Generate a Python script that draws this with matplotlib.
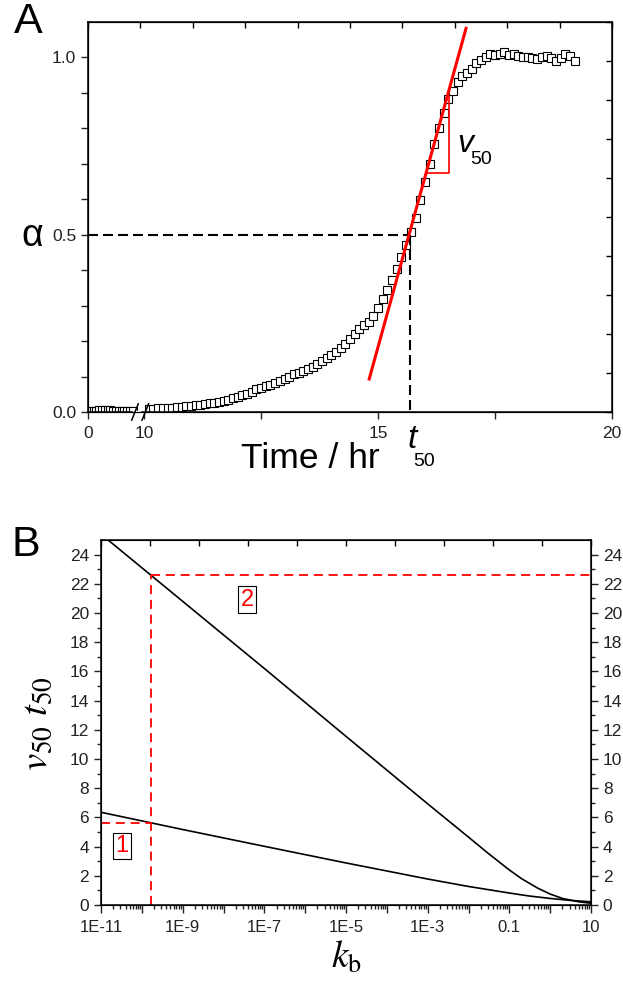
import numpy as np
import matplotlib
matplotlib.use("Agg")
import matplotlib.pyplot as plt
from matplotlib.ticker import FixedLocator, NullFormatter, FuncFormatter

plt.rcParams["font.family"] = ["Liberation Sans", "DejaVu Sans"]

# ---- panel A data (time in hr, fraction converted alpha) ----
early_t = [0.0, 0.5, 1.0, 1.5, 2.0, 2.5, 3.0, 3.5, 4.0, 4.5, 5.0, 5.5, 6.0,
           6.5, 7.0, 7.5, 8.0]
early_alpha = [0.002, 0.003, 0.003, 0.004, 0.005, 0.006, 0.007, 0.006, 0.005,
               0.004, 0.003, 0.003, 0.003, 0.002, 0.002, 0.002, 0.002]

time_hr = [10.1, 10.2, 10.3, 10.4, 10.5, 10.6, 10.7, 10.8, 10.9, 11.0,
           11.1, 11.2, 11.3, 11.4, 11.5, 11.6, 11.7, 11.8, 11.9, 12.0,
           12.1, 12.2, 12.3, 12.4, 12.5, 12.6, 12.7, 12.8, 12.9, 13.0,
           13.1, 13.2, 13.3, 13.4, 13.5, 13.6, 13.7, 13.8, 13.9, 14.0,
           14.1, 14.2, 14.3, 14.4, 14.5, 14.6, 14.7, 14.8, 14.9, 15.0,
           15.1, 15.2, 15.3, 15.4, 15.5, 15.6, 15.7, 15.8, 15.9, 16.0,
           16.1, 16.2, 16.3, 16.4, 16.5, 16.6, 16.7, 16.8, 16.9, 17.0,
           17.1, 17.2, 17.3, 17.4, 17.5, 17.6, 17.7, 17.8, 17.9, 18.0,
           18.1, 18.2, 18.3, 18.4, 18.5, 18.6, 18.7, 18.8, 18.9, 19.0,
           19.1, 19.2]
alpha = [0.008, 0.009, 0.010, 0.010, 0.011, 0.012, 0.013, 0.014, 0.016, 0.017,
         0.019, 0.020, 0.022, 0.024, 0.026, 0.029, 0.032, 0.035, 0.039, 0.043,
         0.047, 0.052, 0.057, 0.064, 0.068, 0.072, 0.077, 0.082, 0.088, 0.094,
         0.100, 0.106, 0.111, 0.117, 0.122, 0.128, 0.136, 0.145, 0.153, 0.160,
         0.170, 0.181, 0.193, 0.206, 0.219, 0.234, 0.245, 0.255, 0.272, 0.294,
         0.318, 0.345, 0.372, 0.402, 0.436, 0.470, 0.508, 0.548, 0.597, 0.648,
         0.700, 0.756, 0.800, 0.842, 0.882, 0.905, 0.932, 0.948, 0.955, 0.968,
         0.983, 0.992, 1.002, 1.010, 1.006, 1.010, 1.014, 1.008, 1.010, 1.005,
         1.002, 1.000, 0.999, 0.996, 1.000, 1.004, 0.998, 0.990, 0.998, 1.010,
         1.004, 0.990]

t50 = 15.68
tangent_t = [14.81, 16.88]
tangent_a = [0.093, 1.082]
tri_t = [16.02, 16.52, 16.52]
tri_a = [0.673, 0.673, 0.89]

# ---- panel B data ----
kb_upper = [1e-11, 1e-9, 1e-7, 1e-5, 1e-3, 1e-2, 3e-2, 0.1, 0.2, 0.5, 1.0,
            2.0, 5.0, 10.0]
t50_upper = [25.4, 20.8, 16.2, 11.55, 6.93, 4.65, 3.55, 2.4, 1.8, 1.15, 0.75,
             0.45, 0.22, 0.12]
kb_lower = [1e-11, 1e-9, 1e-7, 1e-5, 1e-3, 1e-2, 0.1, 0.3, 1.0, 3.0, 10.0]
v50_lower = [6.35, 5.17, 4.02, 2.88, 1.78, 1.27, 0.82, 0.62, 0.45, 0.32, 0.22]
kb_mark = 1.65e-10
y_mark2 = 22.57
y_mark1 = 5.62


def fwd(t):
    t = np.asarray(t, dtype=float)
    return np.where(t < 10, t * 0.12, t - 8.8)


def inv(u):
    u = np.asarray(u, dtype=float)
    return np.where(u < 1.2, u / 0.12, u + 8.8)


fig = plt.figure(figsize=(6.23, 9.82), dpi=100)

# ================= panel A =================
ax = fig.add_axes([88 / 623, 1 - 412 / 982, 524 / 623, 390 / 982])
ax.set_xscale("function", functions=(fwd, inv))
ax.set_xlim(0, 20)
ax.set_ylim(0, 1.1)

mk = dict(marker="s", ls="none", ms=5.6, mfc="white", mec="black", mew=0.8)
ax.plot(early_t, early_alpha, **mk)
ax.plot(time_hr, alpha, **mk)

ax.plot([0, t50], [0.5, 0.5], color="black", lw=1.5, dashes=(4.8, 2.4))
ax.plot([t50, t50], [0.5, 0], color="black", lw=1.5, dashes=(4.8, 2.4))
ax.plot(tangent_t, tangent_a, color="red", lw=2.2, clip_on=False, zorder=5)
ax.plot(tri_t, tri_a, color="red", lw=1.2, zorder=5)

ax.xaxis.set_major_locator(FixedLocator([0, 10, 15, 20]))
ax.xaxis.set_minor_locator(FixedLocator([12.5, 17.5]))
ax.xaxis.set_major_formatter(FuncFormatter(lambda v, p: f"{v:.0f}"))
ax.xaxis.set_minor_formatter(NullFormatter())
ax.yaxis.set_major_locator(FixedLocator([0, 0.5, 1.0]))
ax.yaxis.set_minor_locator(FixedLocator([0.1, 0.2, 0.3, 0.4, 0.6, 0.7, 0.8, 0.9]))
ax.yaxis.set_major_formatter(FuncFormatter(lambda v, p: f"{v:.1f}"))
ax.tick_params(which="both", direction="out", width=1.0, labelsize=12.5, colors="#222222")
ax.tick_params(which="major", length=5)
ax.tick_params(which="minor", length=5)
ax.tick_params(axis="x", pad=5)
for s in ax.spines.values():
    s.set_linewidth(1.1)

# plain evenly spaced ticks on top and right
axt = ax.twiny()
axt.set_xlim(0, 1)
axt.set_xticks(np.linspace(0, 1, 11))
axt.tick_params(direction="in", length=4.5, width=1.0, labeltop=False)
axr = ax.twinx()
axr.set_ylim(0, 1)
axr.set_yticks(np.linspace(0, 1, 11))
axr.tick_params(direction="in", length=4.5, width=1.0, labelright=False)

# axis break on the time axis
ax.plot([0.0875, 0.0975], [0, 0], transform=ax.transAxes, color="white",
        lw=2.5, clip_on=False, zorder=6)
for x0 in (0.0834, 0.1031):
    ax.plot([x0, x0 + 0.0125], [-0.021, 0.021], transform=ax.transAxes,
            color="black", lw=1.1, clip_on=False, zorder=7)

# labels
fig.text(32 / 623, 1 - 236 / 982, "α", fontsize=27, ha="center", va="center")
fig.text(310 / 623, 1 - 459 / 982, "Time / hr", fontsize=25.5, ha="center", va="center")
fig.text(412 / 623, 1 - 440 / 982, "t", fontsize=24, style="italic", ha="center", va="center")
fig.text(424 / 623, 1 - 462 / 982, "50", fontsize=14, ha="center", va="center")
fig.text(465 / 623, 1 - 144 / 982, "v", fontsize=23, style="italic", ha="center", va="center")
fig.text(481 / 623, 1 - 160 / 982, "50", fontsize=14, ha="center", va="center")
fig.text(28 / 623, 1 - 22 / 982, "A", fontsize=31, ha="center", va="center")

# ================= panel B =================
bx = fig.add_axes([101 / 623, 1 - 905 / 982, 490 / 623, 365 / 982])
bx.set_xscale("log")
bx.set_xlim(1e-11, 10)
bx.set_ylim(0, 25)

bx.plot(kb_upper, t50_upper, color="black", lw=1.2)
bx.plot(kb_lower, v50_lower, color="black", lw=1.2)

red = dict(color="#ff0000", lw=1.3, dashes=(5, 3.2))
bx.plot([kb_mark, 10], [y_mark2, y_mark2], **red)
bx.plot([kb_mark, kb_mark], [0, y_mark2], **red)
bx.plot([1e-11, kb_mark], [y_mark1, y_mark1], **red)

box = dict(boxstyle="square,pad=0.1", fc="white", ec="black", lw=0.8)
bx.text(3.8e-8, 20.9, "2", color="red", fontsize=17, ha="center", va="center", bbox=box)
bx.text(3.2e-11, 4.05, "1", color="red", fontsize=17, ha="center", va="center", bbox=box)

decades = [10.0 ** e for e in range(-11, 2)]
dec_labels = {-11: "1E-11", -9: "1E-9", -7: "1E-7", -5: "1E-5", -3: "1E-3", -1: "0.1", 1: "10"}
bx.xaxis.set_major_locator(FixedLocator(decades))
bx.xaxis.set_minor_locator(FixedLocator([m * d for d in decades[:-1] for m in range(2, 10)]))
bx.xaxis.set_major_formatter(FuncFormatter(
    lambda v, p: dec_labels.get(int(round(np.log10(v))), "")))
bx.xaxis.set_minor_formatter(NullFormatter())
bx.yaxis.set_major_locator(FixedLocator(range(0, 25, 2)))
bx.yaxis.set_minor_locator(FixedLocator(range(1, 25, 2)))
bx.tick_params(which="both", direction="out", width=1.0, labelsize=12.5, colors="#222222",
               right=True, labelright=True)
bx.tick_params(axis="x", labelsize=12)
bx.tick_params(which="major", length=5)
bx.tick_params(which="minor", length=3)
bx.tick_params(axis="x", which="major", length=6, pad=5)
for s in bx.spines.values():
    s.set_linewidth(1.1)

bxt = bx.twiny()
bxt.set_xlim(0, 1)
bxt.set_xticks(np.linspace(0, 1, 11))
bxt.tick_params(direction="in", length=4.5, width=1.0, labeltop=False)

fig.text(37 / 623, 1 - 724 / 982, r"$v_{50}\ t_{50}$", fontsize=28, rotation=90,
         ha="center", va="center", math_fontfamily="stix")
fig.text(346 / 623, 1 - 958 / 982, r"$k_{\mathrm{b}}$", fontsize=27,
         ha="center", va="center", math_fontfamily="stix")
fig.text(26 / 623, 1 - 545 / 982, "B", fontsize=31, ha="center", va="center")

fig.savefig("out.png", dpi=100)
